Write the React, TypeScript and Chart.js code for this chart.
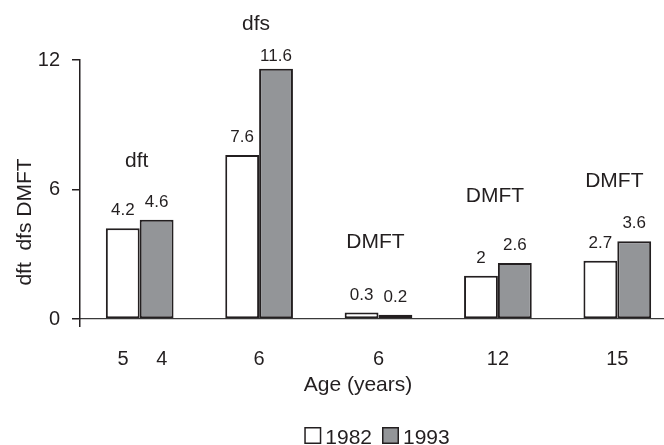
import React, { useEffect, useRef } from "react";
import { Chart, registerables } from "chart.js";

Chart.register(...registerables);

const categories = [" 5     4", "6", "6", "12", "15"];
const seriesNames = ["1982", "1993"];
const values1982 = [4.2, 7.6, 0.3, 2, 2.7];
const values1993 = [4.6, 11.6, 0.2, 2.6, 3.6];
const groupLabels = ["dft", "dfs", "DMFT", "DMFT", "DMFT"];
const groupLabelLevels = [7.06, 13.39, 3.29, 5.43, 6.1];
const yTicks = [0, 6, 12];
const xTitle = "Age (years)";
const yTitle = "dft  dfs DMFT";

const FONT = '"Liberation Sans", Arial, Helvetica, sans-serif';
const INK = "#231f20";
const WHITE = "#ffffff";
const GRAY = "#939598";

const overlay = {
  id: "overlay",
  afterDatasetsDraw(chart: any) {
    const { ctx, chartArea, scales } = chart;
    const xs = scales.x;
    const ys = scales.y;
    ctx.save();
    ctx.fillStyle = INK;
    ctx.textAlign = "center";
    ctx.textBaseline = "alphabetic";

    // value labels above bars
    ctx.font = `17px ${FONT}`;
    chart.data.datasets.forEach((ds: any, di: number) => {
      const meta = chart.getDatasetMeta(di);
      meta.data.forEach((bar: any, i: number) => {
        const by = Math.max(bar.y - 13, chartArea.top + 1);
        ctx.fillText(String(ds.data[i]), bar.x, by);
      });
    });

    // group annotations
    ctx.font = `21px ${FONT}`;
    groupLabels.forEach((t, i) => {
      ctx.fillText(t, xs.getPixelForValue(i) - 3, ys.getPixelForValue(groupLabelLevels[i]));
    });

    // x title
    ctx.fillText(xTitle, chartArea.left + 278, chartArea.bottom + 72);

    // y title
    ctx.save();
    ctx.translate(31, chartArea.top + 162);
    ctx.rotate(-Math.PI / 2);
    ctx.fillText(yTitle, 0, 0);
    ctx.restore();

    // legend
    ctx.font = `21px ${FONT}`;
    ctx.textAlign = "left";
    const box = 17;
    const gapText = 4;
    const gapItem = 10;
    const items = chart.data.datasets.map((ds: any) => ({
      label: ds.label,
      fill: ds.backgroundColor,
      w: ctx.measureText(ds.label).width,
    }));
    let total = 0;
    items.forEach((it: any, i: number) => {
      total += box + gapText + it.w + (i < items.length - 1 ? gapItem : 0);
    });
    let lx = chartArea.left + 297 - total / 2;
    const baseY = chart.height - 1;
    items.forEach((it: any) => {
      ctx.fillStyle = it.fill;
      ctx.fillRect(lx, baseY - box, box, box);
      ctx.strokeStyle = INK;
      ctx.lineWidth = 1.5;
      ctx.strokeRect(lx + 0.75, baseY - box + 0.75, box - 1.5, box - 1.5);
      ctx.fillStyle = INK;
      ctx.fillText(it.label, lx + box + gapText, baseY);
      lx += box + gapText + it.w + gapItem;
    });

    ctx.restore();
  },
};

export default function App() {
  const ref = useRef<HTMLCanvasElement | null>(null);

  useEffect(() => {
    if (!ref.current) return;
    const chart = new Chart(ref.current, {
      type: "bar",
      data: {
        labels: categories,
        datasets: [
          {
            label: seriesNames[0],
            data: values1982,
            backgroundColor: WHITE,
            borderColor: INK,
            borderWidth: 2,
            borderSkipped: false,
            categoryPercentage: 0.567,
            barPercentage: 1,
          },
          {
            label: seriesNames[1],
            data: values1993,
            backgroundColor: GRAY,
            borderColor: INK,
            borderWidth: 2,
            borderSkipped: false,
            categoryPercentage: 0.567,
            barPercentage: 1,
          },
        ],
      },
      options: {
        responsive: false,
        animation: false,
        events: [],
        layout: { padding: { top: 60, right: 13, bottom: 0, left: 0 } },
        plugins: {
          legend: { display: false },
          tooltip: { enabled: false },
          title: { display: false },
        },
        scales: {
          x: {
            type: "category",
            offset: true,
            grid: {
              offset: true,
              drawOnChartArea: false,
              drawTicks: true,
              tickLength: 8,
              lineWidth: 1.5,
              color: (c: any) => (c.index === 0 ? INK : "rgba(0,0,0,0)"),
            },
            border: { display: true, color: "#3a3a3a", width: 1.2 },
            ticks: {
              color: INK,
              font: { family: FONT, size: 20 },
              padding: 20,
              maxRotation: 0,
              autoSkip: false,
            },
            afterFit: (s: any) => {
              s.height = 126;
            },
          },
          y: {
            min: 0,
            max: 12,
            afterBuildTicks: (s: any) => {
              s.ticks = yTicks.map((v) => ({ value: v }));
            },
            grid: {
              drawOnChartArea: false,
              drawTicks: true,
              tickLength: 8,
              lineWidth: 1.5,
              color: INK,
            },
            border: { display: true, color: INK, width: 1.5 },
            ticks: {
              color: INK,
              font: { family: FONT, size: 20 },
              padding: 12,
            },
            afterFit: (s: any) => {
              s.width = 80;
            },
          },
        },
      },
      plugins: [overlay],
    });
    return () => chart.destroy();
  }, []);

  return (
    <div
      style={{
        position: "absolute",
        left: 0,
        top: 0,
        width: 664,
        height: 445,
        overflow: "hidden",
        background: "#ffffff",
      }}
    >
      <canvas ref={ref} width={690} height={445} style={{ display: "block" }} />
    </div>
  );
}
